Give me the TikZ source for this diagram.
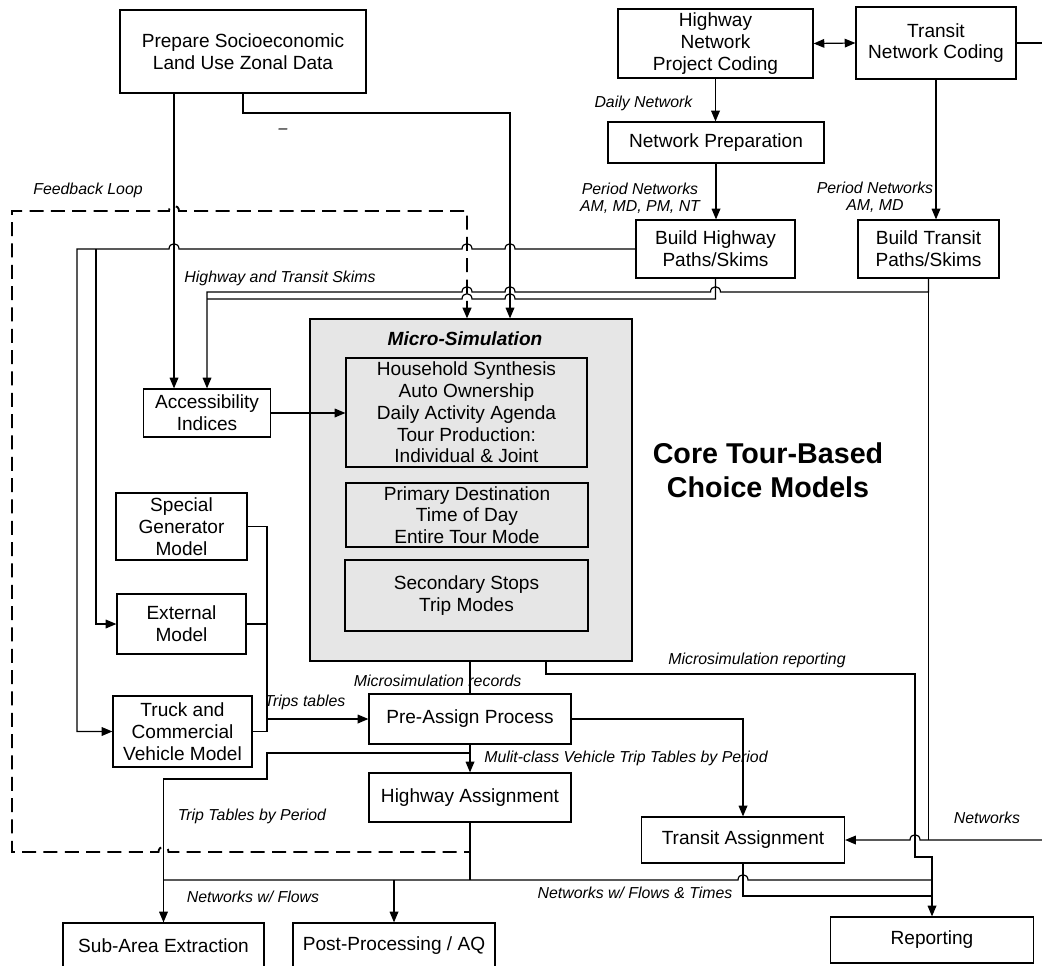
\documentclass[tikz,border=0pt]{standalone}
\usepackage{fontspec}
\setmainfont{Liberation Sans}
\usetikzlibrary{arrows.meta,calc}
\newcommand\boxfont{\fontsize{14.3}{16.3}\selectfont}
\newcommand\labfont{\fontsize{11.9}{12.9}\selectfont\itshape}
\newcommand\corefont{\fontsize{21.5}{25.5}\selectfont\bfseries}
\newcommand\mtitlefont{\fontsize{14.3}{16.3}\selectfont\bfseries\itshape}
\definecolor{msgray}{HTML}{E6E6E6}
\begin{document}
\begin{tikzpicture}[x=0.75pt,y=-0.75pt,line width=0.9pt,
  >={Triangle[length=8pt,width=6.5pt]},
  box/.style={draw,fill=white,align=center,inner sep=0pt,font=\boxfont},
  lab/.style={font=\labfont,inner sep=0pt},
  sz/.style args={#1/#2}{minimum width=#1*0.75pt,minimum height=#2*0.75pt},
  fb/.style={dash pattern=on 10.5pt off 5.5pt,line width=1.4pt},
  jl/.style args={#1/#2}{insert path={-- ({#1+5},{#2}) .. controls ({#1+5},{#2-7}) and ({#1-5},{#2-7}) .. ({#1-5},{#2})}},
  jr/.style args={#1/#2}{insert path={-- ({#1-5},{#2}) .. controls ({#1-5},{#2-7}) and ({#1+5},{#2-7}) .. ({#1+5},{#2})}}]
\useasboundingbox (0,0) rectangle (1042,966);

% boxes
\node[box,sz=246/83] (prep) at (243,51.5) {Prepare Socioeconomic\\Land Use Zonal Data};
\node[box,sz=195/69] (hnpc) at (715.5,43.5) {Highway\\Network\\Project Coding};
\node[box,sz=160/72] (tnc) at (936,43) {Transit\\Network Coding};
\node[box,sz=216/41] (np) at (716,142.5) {Network Preparation};
\node[box,sz=159/58] (bhp) at (715.5,249) {Build Highway\\Paths/Skims};
\node[box,sz=141/58] (btp) at (928.5,249) {Build Transit\\Paths/Skims};
\node[box,sz=127/48] (acc) at (207,413) {Accessibility\\Indices};
\node[box,sz=322/342,fill=msgray] (micro) at (471,490) {};
\node[font=\mtitlefont,inner sep=0pt] (mtitle) at (465,339) {Micro-Simulation};
\node[box,fill=none,sz=241/109] (hh) at (466.5,412.5) {Household Synthesis\\Auto Ownership\\Daily Activity Agenda\\Tour Production:\\Individual \& Joint};
\node[box,fill=none,sz=242/64] (pd) at (467,515) {Primary Destination\\Time of Day\\Entire Tour Mode};
\node[box,fill=none,sz=243/71] (ss) at (466.5,595.5) {Secondary Stops\\Trip Modes};
\node[font=\corefont,align=center,inner sep=0pt] (core) at (768,470) {Core Tour-Based\\Choice Models};
\node[box,sz=131/67] (sg) at (181.5,526.5) {Special\\Generator\\Model};
\node[box,sz=129/60] (ext) at (181.5,624) {External\\Model};
\node[box,sz=139/71] (truck) at (182.5,731.5) {Truck and\\Commercial\\Vehicle Model};
\node[box,sz=202/50] (pre) at (470,719) {Pre-Assign Process};
\node[box,sz=202/49] (hwa) at (470,797.5) {Highway Assignment};
\node[box,sz=203/46] (ta) at (743,840) {Transit Assignment};
\node[box,sz=201/46] (sub) at (163.5,946) {Sub-Area Extraction};
\node[box,sz=202/46] (post) at (394,946) {Post-Processing / AQ};
\node[box,sz=203/46] (rep) at (932,940) {Reporting};

% coordinates for free ends / junctions
\coordinate (tncout) at (1042,43);
\coordinate (netin) at (1042,840);
\coordinate (br) at (96,249);
\coordinate (j207) at (207,299);
\coordinate (col) at (267,719);
\coordinate (j753) at (470,753);
\coordinate (j880) at (163.5,880);
\coordinate (j394) at (394,880);

% network side
\draw[<->] (hnpc.east) -- (tnc.west);
\draw (tnc.east) -- (tncout);
\draw[->] (hnpc.south) -- (hnpc.south |- np.north);
\draw[->] (np.south) -- (np.south |- bhp.north);
\draw[->] (tnc.south) -- (tnc.south |- btp.north);

% socioeconomic data
\draw[->] (prep.south -| 174,0) -- (acc.north -| 174,0);
\draw[->] (prep.south) -- (243,113) -- (510,113) -- (micro.north -| 510,0);

% highway skims to left models
\draw[->] (bhp.west) [jl=510/249] [jl=467/249] [jl=174/249] -- (77,249) -- (truck.west -| 77,0) -- (truck.west);
\draw[->] (br) -- (ext.west -| br) -- (ext.west);

% feedback loop
\draw[fb,->] (hwa.south) -- (470,852) [jl=163.5/852] -- (12,852) -- (12,211) [jr=174/211] -- (467,211) -- (micro.north -| 467,0);

% skims to accessibility
\draw[->] (btp.south) -- (928.5,292) [jl=715.5/292] [jl=510/292] [jl=467/292] -- (207,292) -- (acc.north);
\draw (bhp.south) -- (715.5,299) [jl=510/299] [jl=467/299] -- (j207);
\draw[->] (acc.east) -- (acc.east -| hh.west);

% transit networks
\draw[->] (netin) -- (928.5,840) [jl=915/840] -- (ta.east);
\draw (btp.south) -- (btp.south |- ta.east);

% other models to pre-assign
\draw (sg.east) -| (267,731.5) -- (truck.east);
\draw (ext.east) -- (ext.east -| col);
\draw[->] (col) -- (pre.west);

% micro-simulation outputs
\draw (micro.south -| pre.north) -- (pre.north);
\draw[->] (micro.south -| 546,0) -- (546,674) -- (915,674) -- (915,857) -- (932,857) -- (rep.north);
\draw[->] (pre.east) -- (pre.east -| ta.north) -- (ta.north);
\draw[->] (pre.south) -- (hwa.north);
\draw[->] (j753) -- (267,753) -- (267,779) -- (163.5,779) -- (sub.north);

% assignment outputs
\draw (hwa.south) -- (470,880);
\draw (j880) [jr=743/880] -- (932,880);
\draw[->] (j394) -- (post.north);
\draw (ta.south) -- (743,896) -- (932,896);

% labels
\node[lab,anchor=east] (l1) at (693,103) {Daily Network};
\node[lab,align=center] (l2) at (640,198.5) {Period Networks\\AM, MD, PM, NT};
\node[lab,align=center] (l3) at (875,197) {Period Networks\\AM, MD};
\node[lab] (l4) at (88,190) {Feedback Loop};
\node[lab] (l5) at (283,131) {–};
\node[lab] (l6) at (280,278) {Highway and Transit Skims};
\node[lab,anchor=east] (l7) at (522,681) {Microsimulation records};
\node[lab] (l8) at (757,660) {Microsimulation reporting};
\node[lab] (l9) at (305,702) {Trips tables};
\node[lab] (l10) at (626,758) {Mulit-class Vehicle Trip Tables by Period};
\node[lab] (l11) at (252,816) {Trip Tables by Period};
\node[lab] (l12) at (987,818) {Networks};
\node[lab] (l13) at (253,897) {Networks w/ Flows};
\node[lab] (l14) at (635,893) {Networks w/ Flows \& Times};
\end{tikzpicture}
\end{document}
